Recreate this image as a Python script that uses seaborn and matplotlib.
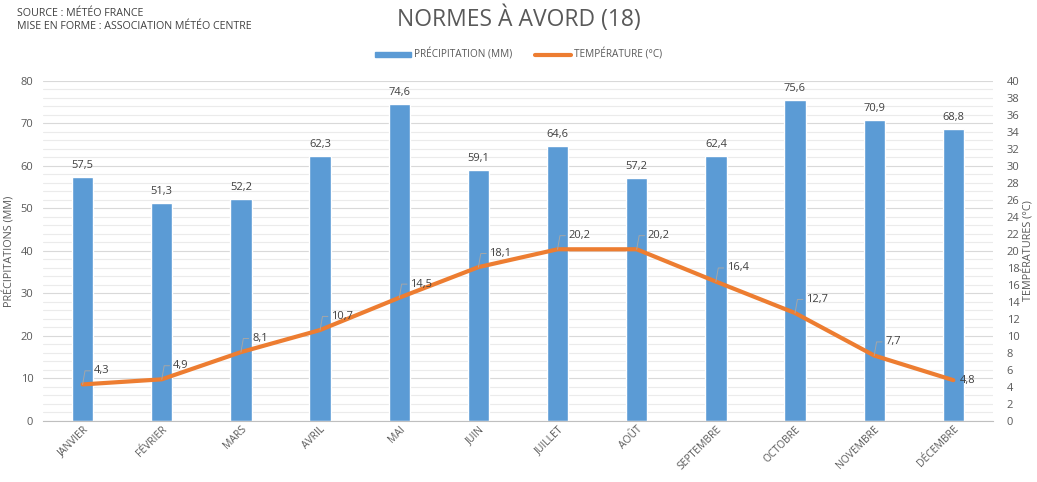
import numpy as np
import pandas as pd
import matplotlib
matplotlib.use('Agg')
import matplotlib.pyplot as plt
import seaborn as sns
from matplotlib.patches import Patch
from matplotlib.lines import Line2D

months = ['JANVIER', 'FÉVRIER', 'MARS', 'AVRIL', 'MAI', 'JUIN', 'JUILLET',
          'AOÛT', 'SEPTEMBRE', 'OCTOBRE', 'NOVEMBRE', 'DÉCEMBRE']
precip = [57.5, 51.3, 52.2, 62.3, 74.6, 59.1, 64.6, 57.2, 62.4, 75.6, 70.9, 68.8]
temp = [4.3, 4.9, 8.1, 10.7, 14.5, 18.1, 20.2, 20.2, 16.4, 12.7, 7.7, 4.8]

blue = '#5B9BD5'
orange = '#ED7D31'
grey = '#595959'

sns.set_theme(style='white')
plt.rcParams['font.family'] = ['Open Sans', 'DejaVu Sans']

df = pd.DataFrame({'mois': months, 'precip': precip, 'temp': temp,
                   'pos': np.arange(len(months))})

fig = plt.figure(figsize=(10.37, 4.82), dpi=100)
ax = fig.add_axes([0.0415, 0.1266, 0.916, 0.7054])

# grid behind bars
for v in np.arange(0, 81, 2):
    major = v % 10 == 0
    ax.axhline(v, color='#D9D9D9' if major else '#EBEBEB', lw=0.8, zorder=0)

sns.barplot(data=df, x='mois', y='precip', color=blue, width=0.27,
            saturation=1, ax=ax, zorder=2)
ax.set_xlim(-0.5, len(months) - 0.5)
ax.set_ylim(0, 80)
ax.set_yticks(np.arange(0, 81, 10))
ax.set_xlabel('')
ax.set_ylabel('PRÉCIPITATIONS (MM)', fontsize=7.8, color=grey, labelpad=4)
ax.tick_params(axis='y', labelsize=8, colors=grey, length=0, pad=7)
ax.tick_params(axis='x', labelsize=7.5, colors=grey, length=0, pad=2)
plt.setp(ax.get_xticklabels(), rotation=45, ha='right', rotation_mode='anchor')
ax.set_xticks(np.arange(-0.5, len(months), 1), minor=True)
ax.tick_params(axis='x', which='minor', length=5, color='#BFBFBF', width=0.8)
for s in ['top', 'right', 'left']:
    ax.spines[s].set_visible(False)
ax.spines['bottom'].set_color('#BFBFBF')
ax.spines['bottom'].set_linewidth(0.8)

for i, p in enumerate(precip):
    ax.text(i, p + 1.4, f'{p:.1f}'.replace('.', ','), ha='center', va='bottom',
            fontsize=8, color='#404040')

ax2 = ax.twinx()
sns.lineplot(data=df, x='pos', y='temp', color=orange, lw=3, ax=ax2,
             solid_joinstyle='round', solid_capstyle='round', zorder=3)
ax2.set_ylim(0, 40)
ax2.set_yticks(np.arange(0, 41, 2))
ax2.set_xlim(-0.5, len(months) - 0.5)
ax2.set_xlabel('')
ax2.set_ylabel('TEMPÉRATURES (°C)', fontsize=7.8, color=grey, labelpad=2)
ax2.tick_params(axis='y', labelsize=8, colors=grey, length=0, pad=10)
for s in ax2.spines.values():
    s.set_visible(False)

for i, t in enumerate(temp):
    lab = f'{t:.1f}'.replace('.', ',')
    if i == len(temp) - 1:
        ax2.text(i + 0.08, t, lab, ha='left', va='center', fontsize=8, color='#404040')
    else:
        ax2.annotate(lab, xy=(i, t), xytext=(i + 0.14, t + 1.6),
                     ha='left', va='center', fontsize=8, color='#404040',
                     arrowprops=dict(arrowstyle='-', color='#A6A6A6', lw=0.7,
                                     connectionstyle='angle,angleA=180,angleB=80,rad=0',
                                     shrinkA=0, shrinkB=0, relpos=(0, 0.5)))

fig.text(0.5, 0.962, 'NORMES À AVORD (18)', ha='center', va='center',
         fontsize=16.5, color=grey)
fig.text(0.016, 0.973, 'SOURCE : MÉTÉO FRANCE', ha='left', va='center',
         fontsize=7.7, color='#404040')
fig.text(0.016, 0.944, 'MISE EN FORME : ASSOCIATION MÉTÉO CENTRE', ha='left',
         va='center', fontsize=7.7, color='#404040')

handles = [Patch(color=blue, label='PRÉCIPITATION (MM)'),
           Line2D([0], [0], color=orange, lw=3, label='TEMPÉRATURE (°C)')]
fig.legend(handles=handles, loc='center', bbox_to_anchor=(0.5, 0.886), ncol=2,
           frameon=False, fontsize=7.2, labelcolor=grey, handlelength=3.6,
           handleheight=0.4, columnspacing=2.2, handletextpad=0.3)

fig.savefig('out.png', dpi=100)
